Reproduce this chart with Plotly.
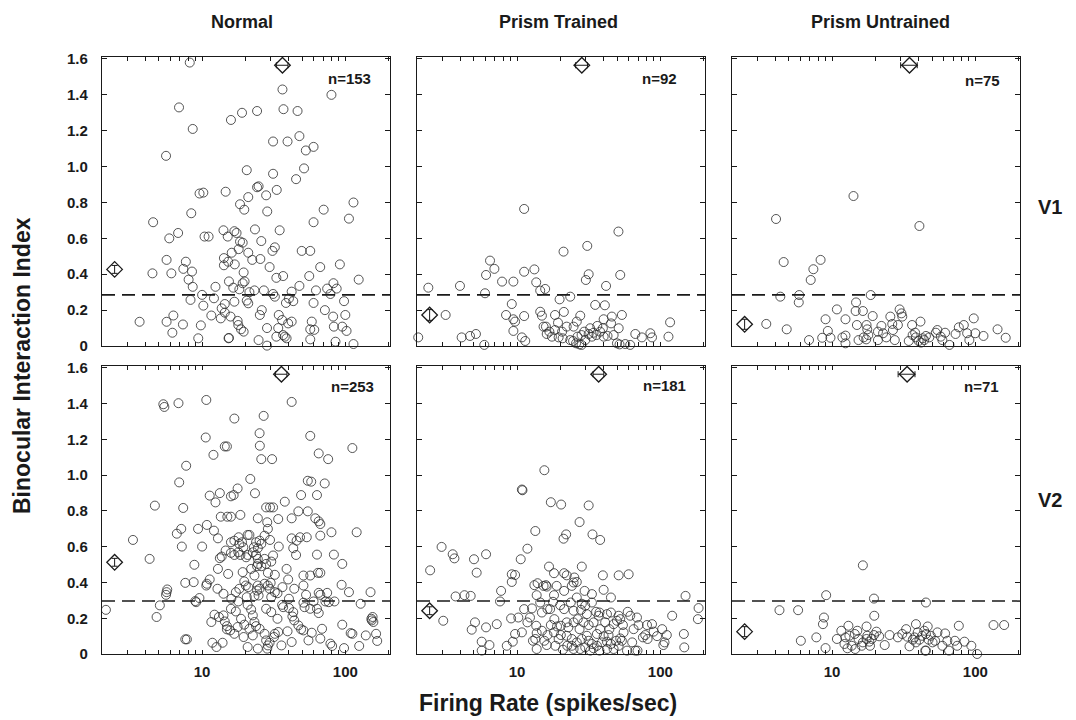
import math
import plotly.graph_objects as go

# ---------------- data: firing rate (spikes/sec) and binocular interaction index ----------------
normal_v1_rate = [8.2, 36.4, 80, 6.9, 24.2, 19.0, 37.0, 46.4, 15.9, 8.6, 31.3, 39.5, 47.8, 60, 53, 5.6, 51.5, 20.5,
                  31.3, 45.3, 24.8, 24.2, 21, 28, 33.2, 14.6, 9.6, 10.2, 18.4, 19.7, 28.5, 114, 70.6, 8.4, 4.55, 60,
                  106, 6.8, 5.9, 10.4, 11.1, 14.1, 16.8, 17.4, 23.4, 15.1, 34.8, 25.9, 19.2, 18.4, 21, 18, 16.1, 14.2,
                  15.2, 32.2, 31, 49.6, 56.9, 5.65, 7.7, 6.1, 4.5, 7.4, 8.5, 8.05, 8.6, 14.2, 16.9, 22.4, 25.5, 29.6,
                  19.5, 36.8, 33, 56, 66.8, 91.6, 124, 82.6, 87, 74.7, 62.4, 47.8, 42.2, 12.4, 15.4, 16.5, 18.2, 19.2,
                  19.8, 21.4, 23.2, 27, 31.3, 32.2, 40.4, 43.3, 38.5, 60, 78.7, 98, 72, 10, 8.3, 10.2, 11.6, 9.8, 9.4,
                  6.3, 7.35, 5.65, 6.2, 3.66, 16.8, 12.1, 13.7, 14.4, 13.5, 14.4, 15.8, 17.7, 17.9, 18.7, 19.5, 15.3,
                  15.4, 21, 20.5, 25.3, 26.1, 28.4, 24.8, 28.4, 34.3, 36.2, 34, 36.8, 37.8, 38.9, 33, 39.9, 42.2, 58.3,
                  56.9, 60.7, 56.9, 82.2, 83.2, 100, 95.2, 102, 85.4, 114]
normal_v1_bii = [1.58, 1.43, 1.40, 1.33, 1.31, 1.30, 1.32, 1.31, 1.26, 1.21, 1.14, 1.14, 1.17, 1.11, 1.09, 1.06, 0.99,
                 0.98, 0.96, 0.93, 0.89, 0.885, 0.83, 0.84, 0.87, 0.86, 0.85, 0.855, 0.79, 0.76, 0.75, 0.80, 0.76,
                 0.74, 0.69, 0.69, 0.71, 0.63, 0.60, 0.61, 0.61, 0.645, 0.64, 0.63, 0.65, 0.61, 0.645, 0.585, 0.576,
                 0.582, 0.52, 0.54, 0.52, 0.49, 0.47, 0.55, 0.53, 0.53, 0.53, 0.48, 0.47, 0.405, 0.405, 0.43, 0.415,
                 0.37, 0.33, 0.45, 0.455, 0.48, 0.485, 0.44, 0.41, 0.39, 0.38, 0.39, 0.44, 0.455, 0.37, 0.35, 0.32,
                 0.32, 0.31, 0.335, 0.303, 0.33, 0.36, 0.325, 0.316, 0.35, 0.36, 0.30, 0.31, 0.31, 0.29, 0.275, 0.265,
                 0.25, 0.24, 0.24, 0.29, 0.25, 0.20, 0.285, 0.257, 0.225, 0.17, 0.115, 0.043, 0.17, 0.12, 0.135,
                 0.074, 0.135, 0.247, 0.266, 0.21, 0.234, 0.154, 0.186, 0.164, 0.14, 0.117, 0.093, 0.08, 0.043, 0.045,
                 0.238, 0.253, 0.173, 0.2, 0.1, 0.033, 0.002, 0.173, 0.145, 0.1, 0.061, 0.052, 0.043, 0.052, 0.126,
                 0.136, 0.136, 0.093, 0.09, 0.037, 0.164, 0.108, 0.173, 0.108, 0.084, 0.024, 0.011]

trained_v1_rate = [11.2, 51, 21.1, 30.9, 31.6, 30.2, 52.5, 41.8, 6.47, 6.94, 6.07, 7.85, 9.42, 11.2, 13.2, 13.6, 14.5,
                   15.7, 5.97, 3.99, 2.40, 3.17, 2.04, 4.10, 4.69, 5.16, 5.9, 9.18, 8.37, 9.42, 9.68, 9.42, 10.8, 11.4,
                   11.2, 14.5, 14.9, 15.9, 16.8, 16.1, 17.5, 18.4, 19.3, 18.4, 19.8, 21.2, 23.5, 22.2, 20.8, 19.5,
                   24.8, 26.1, 27.6, 24.6, 25.8, 27.2, 28.2, 26.4, 28.2, 29.4, 31.6, 33.3, 34.2, 36.3, 39.7, 35.1, 41,
                   40.2, 45.9, 45.3, 53.9, 51.2, 47.2, 40.2, 49.8, 51.9, 56.9, 61.6, 66.9, 74.4, 85.2, 87.5, 114, 117,
                   35.8, 32.4, 38, 23.5, 29.9, 20.6, 15.3, 42.8]
trained_v1_bii = [0.764, 0.638, 0.526, 0.558, 0.40, 0.368, 0.396, 0.335, 0.476, 0.43, 0.396, 0.359, 0.359, 0.414,
                  0.427, 0.355, 0.309, 0.318, 0.294, 0.335, 0.325, 0.173, 0.048, 0.048, 0.056, 0.067, 0.006, 0.234,
                  0.173, 0.149, 0.136, 0.084, 0.048, 0.028, 0.167, 0.191, 0.169, 0.108, 0.08, 0.067, 0.052, 0.089,
                  0.13, 0.173, 0.26, 0.19, 0.275, 0.108, 0.043, 0.048, 0.108, 0.136, 0.169, 0.028, 0.015, 0.009,
                  0.006, 0.052, 0.061, 0.08, 0.067, 0.052, 0.074, 0.112, 0.099, 0.229, 0.227, 0.149, 0.164, 0.126,
                  0.173, 0.099, 0.061, 0.052, 0.015, 0.009, 0.011, 0.006, 0.067, 0.048, 0.071, 0.048, 0.052, 0.132,
                  0.061, 0.099, 0.08, 0.033, 0.033, 0.08, 0.108, 0.056]

untrained_v1_rate = [14.1, 4.06, 40.7, 4.59, 8.31, 7.40, 7.09, 4.35, 5.89, 5.85, 18.6, 14.7, 10.8, 14.6, 16.4, 19.2,
                     9.0, 12.4, 3.47, 4.82, 6.90, 8.53, 9.34, 9.74, 11.8, 12.4, 12.4, 14.9, 17.4, 17.6, 15.3, 16.6,
                     17.3, 17.9, 20.9, 22.7, 23.9, 26.6, 27.4, 25.5, 26.3, 29.6, 30.5, 30.9, 28.8, 36.2, 41.4, 34.3,
                     36.5, 38, 38.4, 40.2, 42.9, 45.2, 41.8, 53, 57.4, 61.5, 66, 72.8, 76.7, 83.1, 97.5, 90.9, 100, 114,
                     143, 163, 47.7, 58.9, 20.9, 44, 54.3, 22.1, 87.7]
untrained_v1_bii = [0.836, 0.708, 0.669, 0.468, 0.48, 0.428, 0.368, 0.275, 0.284, 0.243, 0.284, 0.243, 0.204, 0.195,
                    0.195, 0.167, 0.149, 0.149, 0.123, 0.093, 0.033, 0.046, 0.084, 0.046, 0.048, 0.058, 0.015, 0.117,
                    0.117, 0.093, 0.033, 0.048, 0.037, 0.061, 0.08, 0.071, 0.048, 0.089, 0.033, 0.164, 0.123, 0.204,
                    0.182, 0.164, 0.117, 0.117, 0.136, 0.028, 0.061, 0.074, 0.048, 0.028, 0.043, 0.056, 0.019, 0.074,
                    0.052, 0.074, 0.006, 0.067, 0.104, 0.117, 0.154, 0.033, 0.071, 0.056, 0.093, 0.046, 0.048, 0.033,
                    0.033, 0.033, 0.089, 0.112, 0.071]

normal_v2_rate = [5.36, 5.45, 6.84, 10.7, 42.2, 16.8, 26.9, 10.6, 25.2, 56.9, 12, 14.4, 14.9, 25.3, 25.9, 30.8, 65.2,
                  75.9, 112, 7.74, 6.92, 21.7, 54.7, 57.8, 71.8, 11.3, 13.3, 15.9, 17.7, 16.6, 23.4, 49.1, 63.4, 4.68,
                  7.38, 12.4, 13.5, 15.0, 15.9, 18.5, 28, 29.8, 31.3, 37.8, 24.5, 34, 42.2, 47, 54.7, 61.7, 65.2, 66.9,
                  80, 120, 3.29, 4.3, 18.2, 2.13, 6.66, 7.15, 7.22, 9.37, 10.8, 10, 8.83, 7.63, 8.73, 9.58, 8.97, 10.7,
                  11.3, 12.9, 13.3, 13.7, 12.9, 12.8, 15.2, 15.9, 16.8, 18, 18.2, 17.9, 18.5, 20.8, 21.4, 23, 24.5,
                  25.2, 27.3, 28.5, 28.8, 29.8, 31.3, 30.4, 34.3, 42.2, 45.7, 43.3, 45.3, 48.3, 53.8, 63.4, 66.9, 83.2,
                  95.2, 56.9, 64.4, 66.9, 51, 44, 40.4, 38.9, 39.9, 32.2, 30.1, 32.2, 33.6, 36.4, 36.8, 27.3, 25.2,
                  23.2, 24.2, 24.5, 24.5, 24.2, 24.8, 23.2, 20.5, 19.7, 20.2, 17.9, 16, 12.2, 11.6, 13.1, 14.1, 14.4,
                  14.9, 15.7, 17.2, 18.7, 19.5, 20.8, 22.6, 23.2, 23.8, 25.2, 24.5, 27.3, 28, 28.8, 28.5, 29.6, 31.8,
                  32.2, 34, 35.8, 36.2, 40.4, 43.3, 42.7, 44, 39.5, 49.1, 51, 51, 51.9, 53.2, 55.3, 58.3, 63.4, 65.2,
                  65.2, 66.9, 66.9, 74.7, 76.6, 78.7, 80.9, 72.6, 84, 94.2, 106, 95.2, 109, 112, 98, 125, 128, 139,
                  150, 155, 153, 157, 164, 167, 152, 4.81, 5.07, 5.6, 5.65, 5.71, 7.63, 7.83, 9.08, 11.8, 12.6, 13.9,
                  16.8, 14.9, 20.3, 20.8, 23.8, 24.5, 25.9, 28.8, 22, 19.2, 17.2, 20.8, 22, 28, 30.4, 30.4, 33.6, 17.7,
                  19.7, 21.4, 22.6, 51, 60, 68.8, 56.9, 42.2, 47, 12.1, 14.6, 15.9, 16.8, 19, 19.4, 22.6, 23.8, 25.9,
                  27.3, 28, 28.8, 29.6, 10.8, 14.1, 15.9, 21]
normal_v2_bii = [1.397, 1.382, 1.403, 1.421, 1.41, 1.317, 1.332, 1.211, 1.235, 1.22, 1.114, 1.161, 1.161, 1.165, 1.09,
                 1.09, 1.122, 1.09, 1.152, 1.053, 0.96, 0.979, 0.969, 0.964, 0.954, 0.886, 0.9, 0.882, 0.926, 0.889,
                 0.899, 0.889, 0.889, 0.83, 0.817, 0.848, 0.768, 0.768, 0.768, 0.778, 0.82, 0.82, 0.82, 0.852, 0.759,
                 0.755, 0.759, 0.798, 0.798, 0.759, 0.742, 0.727, 0.681, 0.681, 0.638, 0.532, 0.365, 0.247, 0.673,
                 0.70, 0.601, 0.70, 0.722, 0.601, 0.499, 0.398, 0.402, 0.313, 0.296, 0.383, 0.417, 0.647, 0.536, 0.545,
                 0.476, 0.365, 0.448, 0.625, 0.634, 0.653, 0.616, 0.569, 0.554, 0.666, 0.666, 0.597, 0.592, 0.634,
                 0.662, 0.737, 0.70, 0.638, 0.551, 0.517, 0.601, 0.647, 0.634, 0.592, 0.554, 0.653, 0.653, 0.556,
                 0.662, 0.556, 0.504, 0.439, 0.454, 0.454, 0.439, 0.365, 0.309, 0.476, 0.417, 0.443, 0.398, 0.346,
                 0.34, 0.374, 0.262, 0.393, 0.365, 0.439, 0.491, 0.504, 0.383, 0.355, 0.327, 0.324, 0.318, 0.406,
                 0.383, 0.294, 0.309, 0.22, 0.179, 0.207, 0.216, 0.182, 0.156, 0.132, 0.238, 0.197, 0.095, 0.039,
                 0.216, 0.179, 0.156, 0.141, 0.03, 0.113, 0.076, 0.048, 0.03, 0.063, 0.095, 0.113, 0.123, 0.048, 0.275,
                 0.257, 0.234, 0.21, 0.188, 0.127, 0.138, 0.132, 0.287, 0.262, 0.331, 0.076, 0.119, 0.253, 0.229,
                 0.342, 0.331, 0.086, 0.342, 0.29, 0.058, 0.045, 0.294, 0.294, 0.387, 0.346, 0.164, 0.117, 0.113,
                 0.033, 0.045, 0.281, 0.104, 0.346, 0.207, 0.188, 0.179, 0.113, 0.073, 0.197, 0.207, 0.272, 0.331,
                 0.346, 0.361, 0.082, 0.082, 0.29, 0.063, 0.039, 0.063, 0.113, 0.138, 0.541, 0.554, 0.554, 0.532,
                 0.491, 0.454, 0.476, 0.458, 0.346, 0.275, 0.249, 0.253, 0.318, 0.234, 0.197, 0.151, 0.164, 0.141,
                 0.104, 0.383, 0.294, 0.141, 0.253, 0.067, 0.16, 0.69, 0.579, 0.566, 0.554, 0.625, 0.597, 0.569, 0.625,
                 0.616, 0.532, 0.504, 0.383, 0.365, 0.393, 0.337, 0.253, 0.374]

trained_v2_rate = [15.5, 10.9, 10.8, 17.2, 20.3, 31.6, 27.3, 13.4, 22, 21.1, 33.6, 38, 2.97, 3.55, 3.65, 5.0, 6.07,
                   5.22, 2.47, 11.8, 10.6, 16.7, 21.3, 22.2, 25.1, 28.3, 9.18, 9.18, 9.68, 13.2, 13.9, 15.9, 16.1,
                   18.9, 26.1, 29.6, 39.7, 51.2, 60.1, 40.2, 45.2, 33.3, 7.73, 7.6, 3.72, 4.29, 4.74, 3.05, 5.08, 4.82,
                   6.07, 7.21, 5.66, 6.41, 5.66, 8.47, 9.33, 9.68, 9.08, 10.2, 11.8, 12.3, 13.6, 14.5, 14.9, 16.3,
                   17.8, 18.2, 20, 21.3, 23.7, 24.8, 26.1, 27.9, 29.9, 33.3, 35.6, 37.1, 34.2, 31.6, 29.1, 24.8, 22.2,
                   14.9, 13.7, 15.5, 13.4, 12.9, 16.3, 18.1, 19.5, 20.2, 22.2, 24.1, 24.1, 24.8, 22.4, 20.9, 18.5,
                   16.1, 13.7, 30.7, 31.6, 33.3, 34.2, 36.1, 37.6, 39.1, 40.2, 43.5, 44.1, 47.2, 49.8, 51.2, 52.5,
                   54.8, 55.4, 52.5, 49.2, 51.2, 45.2, 47.2, 42.4, 53.9, 59.2, 61.7, 68.7, 70.5, 65.1, 69.3, 67, 80.7,
                   87.5, 89.8, 81.5, 75.6, 103, 111, 121, 107, 105, 146, 147, 150, 185, 183, 41.2, 42.4, 45.2, 30.7,
                   26.5, 22.8, 27.3, 28.3, 26.1, 29.9, 32.5, 27.6, 38, 36.1, 18.1, 17, 12.7, 11.2, 13.7, 15.3, 18.1,
                   24.8, 21.3, 24.1, 37.6, 28.3, 20.2, 19, 17.2, 42.4, 58.5, 63.6, 78.5, 94.9, 10.8]
trained_v2_bii = [1.028, 0.916, 0.92, 0.849, 0.836, 0.831, 0.738, 0.688, 0.669, 0.645, 0.669, 0.638, 0.599, 0.558,
                  0.535, 0.53, 0.558, 0.455, 0.468, 0.589, 0.53, 0.489, 0.452, 0.44, 0.428, 0.489, 0.446, 0.403, 0.442,
                  0.385, 0.396, 0.385, 0.377, 0.381, 0.403, 0.353, 0.44, 0.44, 0.446, 0.359, 0.316, 0.335, 0.353,
                  0.294, 0.322, 0.329, 0.325, 0.186, 0.177, 0.136, 0.149, 0.167, 0.069, 0.05, 0.019, 0.046, 0.069,
                  0.112, 0.199, 0.204, 0.177, 0.204, 0.158, 0.288, 0.232, 0.251, 0.292, 0.195, 0.273, 0.251, 0.288,
                  0.242, 0.316, 0.247, 0.27, 0.288, 0.236, 0.214, 0.177, 0.162, 0.177, 0.177, 0.177, 0.13, 0.117,
                  0.074, 0.084, 0.074, 0.106, 0.121, 0.084, 0.106, 0.102, 0.084, 0.046, 0.028, 0.046, 0.024, 0.046,
                  0.05, 0.028, 0.102, 0.074, 0.056, 0.032, 0.046, 0.019, 0.065, 0.099, 0.106, 0.139, 0.167, 0.186,
                  0.214, 0.195, 0.162, 0.121, 0.087, 0.074, 0.046, 0.056, 0.028, 0.069, 0.074, 0.236, 0.214, 0.204,
                  0.162, 0.139, 0.019, 0.019, 0.162, 0.167, 0.125, 0.084, 0.093, 0.139, 0.106, 0.214, 0.065, 0.05,
                  0.112, 0.037, 0.325, 0.257, 0.195, 0.177, 0.223, 0.232, 0.223, 0.195, 0.149, 0.139, 0.084, 0.065,
                  0.037, 0.019, 0.028, 0.139, 0.112, 0.329, 0.251, 0.255, 0.251, 0.329, 0.381, 0.452, 0.4, 0.353,
                  0.381, 0.232, 0.281, 0.158, 0.154, 0.162, 0.028, 0.019, 0.065, 0.106, 0.1, 0.121]

untrained_v2_rate = [16.4, 9.09, 19.6, 45.2, 4.29, 5.79, 8.77, 8.63, 19.7, 6.05, 7.76, 9.0, 10.8, 11.6, 12.2, 13.0,
                     13.2, 13.7, 14.5, 15.0, 15.3, 16.4, 17.4, 17.6, 18.2, 18.9, 20.4, 23.3, 25.2, 30.9, 32.9, 34.7,
                     38.5, 37.6, 39.6, 40.7, 42.5, 44, 45.2, 46.5, 47.2, 48.9, 50.3, 54.4, 58.9, 61.5, 65.5, 72, 76.7,
                     84, 93.8, 103, 134, 159, 12.8, 16.1, 18.4, 21.3, 28.8, 36.6, 38.5, 44.7, 52.4, 63.8, 74.7, 14.4,
                     19.6, 33.5, 45.2, 12.4, 17.4]
untrained_v2_bii = [0.496, 0.329, 0.31, 0.288, 0.245, 0.245, 0.204, 0.167, 0.214, 0.074, 0.093, 0.033, 0.084, 0.13,
                    0.056, 0.158, 0.102, 0.046, 0.028, 0.13, 0.084, 0.065, 0.154, 0.102, 0.069, 0.084, 0.125, 0.05,
                    0.106, 0.112, 0.139, 0.043, 0.167, 0.093, 0.121, 0.08, 0.102, 0.13, 0.019, 0.154, 0.08, 0.102,
                    0.065, 0.121, 0.046, 0.115, 0.019, 0.074, 0.158, 0.069, 0.046, 0.0, 0.162, 0.162, 0.032, 0.046,
                    0.046, 0.099, 0.093, 0.08, 0.065, 0.019, 0.074, 0.074, 0.046, 0.112, 0.106, 0.097, 0.112, 0.093,
                    0.084]

# population means with standard errors (diamonds)
mean_rate = [36.4, 28.3, 34.7, 35.8, 37.1, 33.4]
mean_rate_sem = [3.4, 2.7, 4.6, 3.3, 3.2, 4.5]
mean_bii = [0.427, 0.173, 0.121, 0.513, 0.242, 0.125]
mean_bii_sem = [0.022, 0.03, 0.028, 0.022, 0.022, 0.028]

# criterion line for binocular suppression / facilitation
criterion = [0.285, 0.285, 0.285, 0.296, 0.296, 0.296]

group_titles = ["Normal", "Prism Trained", "Prism Untrained"]
area_labels = ["V1", "V2"]
cell_counts = ["n=153", "n=92", "n=75", "n=253", "n=181", "n=71"]

x_tick_vals = [2, 3, 4, 5, 6, 7, 8, 9, 10, 20, 30, 40, 50, 60, 70, 80, 90, 100, 200]
x_tick_text = ["", "", "", "", "", "", "", "", "10", "", "", "", "", "", "", "", "", "100", ""]
y_tick_vals = [0, 0.2, 0.4, 0.6, 0.8, 1.0, 1.2, 1.4, 1.6]
y_tick_text = ["0", "0.2", "0.4", "0.6", "0.8", "1.0", "1.2", "1.4", "1.6"]

panels = [
    (normal_v1_rate, normal_v1_bii),
    (trained_v1_rate, trained_v1_bii),
    (untrained_v1_rate, untrained_v1_bii),
    (normal_v2_rate, normal_v2_bii),
    (trained_v2_rate, trained_v2_bii),
    (untrained_v2_rate, untrained_v2_bii),
]

# ---------------- layout geometry (pixels of a 1076 x 720 page) ----------------
W, H = 1076, 720
ML, MR, MT, MB = 102, 56, 57, 66
PW, PH = W - ML - MR, H - MT - MB
col_px = [(102, 390), (417, 705), (732, 1020)]
row_px = [(57, 346), (366, 654)]


def px_x(px):
    return (px - ML) / PW


def px_y(py):
    return (H - MB - py) / PH


FONT = "Liberation Sans, Arial, Helvetica, sans-serif"
INK = "#1a1a1a"
MEAN_Y = 1.565      # height of the firing-rate mean marker
MEAN_X = 2.45       # horizontal position of the index mean marker

fig = go.Figure()
layout_axes = {}

for i, (rate, bii) in enumerate(panels):
    r, c = divmod(i, 3)
    k = i + 1
    xa = "x" if k == 1 else f"x{k}"
    ya = "y" if k == 1 else f"y{k}"
    xkey = "xaxis" if k == 1 else f"xaxis{k}"
    ykey = "yaxis" if k == 1 else f"yaxis{k}"

    fig.add_trace(go.Scatter(
        x=rate, y=bii, mode="markers", xaxis=xa, yaxis=ya, cliponaxis=False,
        marker=dict(symbol="circle-open", size=9, color="#2b2b2b", line=dict(width=0.8)),
        showlegend=False, hoverinfo="skip"))

    # mean firing rate (top diamond, horizontal SEM bar)
    fig.add_trace(go.Scatter(
        x=[mean_rate[i]], y=[MEAN_Y], mode="markers", xaxis=xa, yaxis=ya, cliponaxis=False,
        error_x=dict(type="data", array=[mean_rate_sem[i]], color=INK, thickness=1, width=3),
        marker=dict(symbol="diamond-open", size=12, color=INK, line=dict(width=1.3)),
        showlegend=False, hoverinfo="skip"))

    # mean interaction index (left diamond, vertical SEM bar)
    fig.add_trace(go.Scatter(
        x=[MEAN_X], y=[mean_bii[i]], mode="markers", xaxis=xa, yaxis=ya, cliponaxis=False,
        error_y=dict(type="data", array=[mean_bii_sem[i]], color=INK, thickness=1, width=3),
        marker=dict(symbol="diamond-open", size=12, color=INK, line=dict(width=1.3)),
        showlegend=False, hoverinfo="skip"))

    x0, x1 = col_px[c]
    y0, y1 = row_px[r]
    layout_axes[xkey] = dict(
        type="log", range=[math.log10(2), 2.312], domain=[px_x(x0), px_x(x1)], anchor=ya,
        tickvals=x_tick_vals, ticktext=x_tick_text, showticklabels=(r == 1),
        ticks="inside", ticklen=4, tickwidth=1, tickcolor=INK, mirror="allticks",
        showline=True, linecolor=INK, linewidth=1.3, showgrid=False, zeroline=False,
        ticklabelstandoff=4,
        tickfont=dict(family=FONT, size=15, color=INK, weight="bold"))
    layout_axes[ykey] = dict(
        range=[0, 1.611], domain=[px_y(y1), px_y(y0)], anchor=xa,
        tickvals=y_tick_vals, ticktext=y_tick_text, showticklabels=(c == 0),
        ticks="inside", ticklen=5, tickwidth=1, tickcolor=INK, mirror="allticks",
        showline=True, linecolor=INK, linewidth=1.3, showgrid=False, zeroline=False,
        ticklabelstandoff=10,
        tickfont=dict(family=FONT, size=15, color=INK, weight="bold"))

    fig.add_shape(type="line", xref=f"{xa} domain", yref=ya, x0=0, x1=1,
                  y0=criterion[i], y1=criterion[i],
                  line=dict(color=INK, width=1.8 if r == 0 else 1.5, dash="13px,7px"))

annotations = []
title_centres = [242, 558, 880]
for c, t in enumerate(group_titles):
    annotations.append(dict(text=t, x=px_x(title_centres[c]), y=px_y(22), xref="paper", yref="paper",
                            showarrow=False, xanchor="center", yanchor="middle",
                            font=dict(family=FONT, size=18, color=INK, weight="bold")))
for r, t in enumerate(area_labels):
    annotations.append(dict(text=t, x=px_x(1050), y=px_y([207, 500][r]), xref="paper", yref="paper",
                            showarrow=False, xanchor="center", yanchor="middle",
                            font=dict(family=FONT, size=20, color=INK, weight="bold")))
count_pos = [(349, 79), (659, 79), (982, 80), (352, 386), (664, 385), (981, 387)]
for (cx, cy), t in zip(count_pos, cell_counts):
    annotations.append(dict(text=t, x=px_x(cx), y=px_y(cy), xref="paper", yref="paper",
                            showarrow=False, xanchor="center", yanchor="middle",
                            font=dict(family=FONT, size=15, color=INK, weight="bold")))
annotations.append(dict(text="Binocular Interaction Index", x=px_x(22), y=px_y(366), xref="paper",
                        yref="paper", showarrow=False, textangle=-90, xanchor="center", yanchor="middle",
                        font=dict(family=FONT, size=23, color=INK, weight="bold")))
annotations.append(dict(text="Firing Rate (spikes/sec)", x=px_x(548), y=px_y(703), xref="paper",
                        yref="paper", showarrow=False, xanchor="center", yanchor="middle",
                        font=dict(family=FONT, size=23, color=INK, weight="bold")))

fig.update_layout(
    width=W, height=H, margin=dict(l=ML, r=MR, t=MT, b=MB),
    paper_bgcolor="white", plot_bgcolor="white",
    annotations=annotations, showlegend=False,
    **layout_axes)

fig.write_html("out.html")
